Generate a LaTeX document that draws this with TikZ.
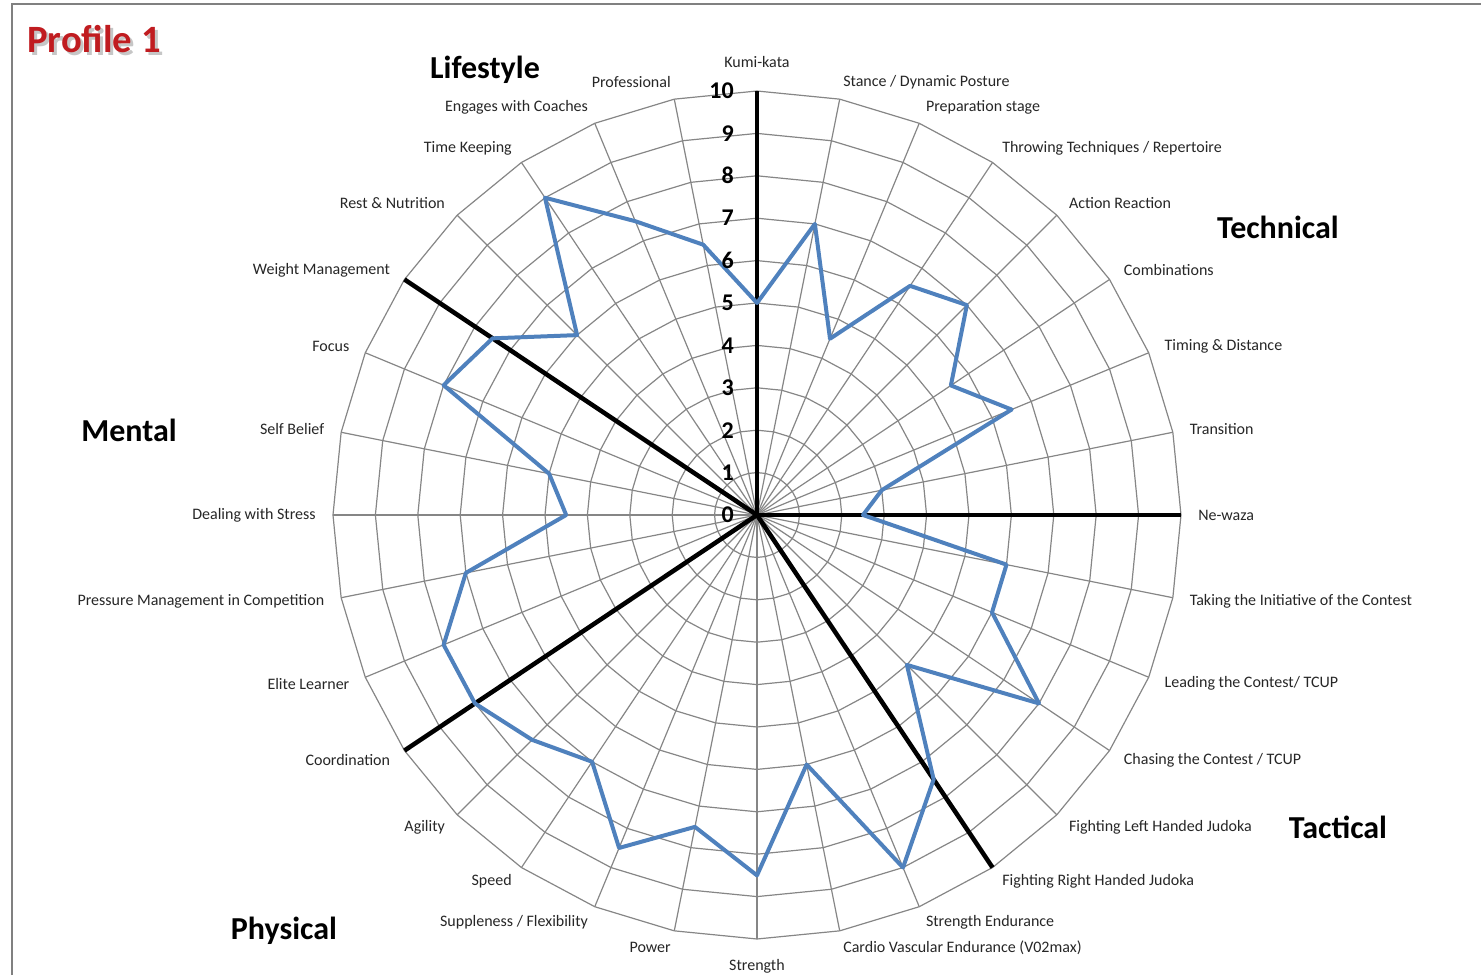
\documentclass[tikz,border=0pt]{standalone}
\usepackage{fontspec}
\setmainfont{Carlito}
\usepackage{xcolor}
\usetikzlibrary{positioning}

\definecolor{chartblue}{RGB}{79,129,189}
\definecolor{titlered}{RGB}{192,28,32}
\definecolor{gridgray}{RGB}{134,134,134}

\begin{document}
\begin{tikzpicture}[
    x=0.75pt, y=0.75pt,
    grid/.style   ={draw=gridgray, line width=0.9pt},
    divider/.style={draw=black, line width=3.4pt},
    profile/.style={draw=chartblue, line width=3pt, line join=round},
    frame/.style  ={draw=gray, line width=1.5pt},
    axislabel/.style={font=\fontsize{12}{14}\selectfont, text=black!85, inner sep=0pt},
    tick/.style   ={font=\fontsize{18}{20}\selectfont\bfseries, anchor=east, inner sep=0pt},
    group/.style  ={font=\fontsize{24}{28}\selectfont\bfseries},
    title/.style  ={font=\fontsize{29}{33}\selectfont\bfseries}
  ]
    \useasboundingbox (-757,-460) rectangle (724,515);

    % frame
    \draw[frame] (-745,-460) -- (-745,511) -- (724,511);

    % centre and axis ends
    \coordinate (O) at (0,0);
    \foreach \i in {0,...,31} \coordinate (a\i) at (90-11.25*\i:424);

    % rings and spokes
    \foreach \k in {1,...,10}
      \draw[grid] (90:\k*42.4) \foreach \i in {1,...,31} { -- (90-11.25*\i:\k*42.4) } -- cycle;
    \foreach \i in {0,...,31} \draw[grid] (O) -- (a\i);

    % group dividers
    \foreach \i in {0,8,13,21,27} \draw[divider] (O) -- (a\i);

    % scores
    \foreach \i/\v in {0/5, 1/7, 2/4.5, 3/6.5, 4/7, 5/5.5, 6/6.5, 7/3,
                       8/2.5, 9/6, 10/6, 11/8, 12/5, 13/7.5, 14/9, 15/6,
                       16/8.5, 17/7.5, 18/8.5, 19/7, 20/7.5, 21/8, 22/8, 23/7,
                       24/4.5, 25/5, 26/8, 27/7.5, 28/6, 29/9, 30/7.5, 31/6.5}
      \coordinate (p\i) at (90-11.25*\i:\v*42.4);
    \draw[profile] (p0) \foreach \i in {1,...,31} { -- (p\i) } -- cycle;

    % scale
    \foreach \k in {0,...,10} \node[tick] (t\k) at (-23,\k*42.4) {\k};

    % axis labels
    \node[axislabel, anchor=south] (l0) at (90:447) {Kumi-kata};
    \node[axislabel, anchor=north] (l16) at (-90:444) {Strength};
    \foreach \i/\txt in {1/{Stance / Dynamic Posture}, 2/{Preparation stage},
                         3/{Throwing Techniques / Repertoire}, 4/{Action Reaction},
                         5/{Combinations}, 6/{Timing \& Distance}, 7/{Transition},
                         8/{Ne-waza}, 9/{Taking the Initiative of the Contest},
                         10/{Leading the Contest/ TCUP}, 11/{Chasing the Contest / TCUP},
                         12/{Fighting Left Handed Judoka}, 13/{Fighting Right Handed Judoka},
                         14/{Strength Endurance}, 15/{Cardio Vascular Endurance (V02max)}}
      \node[axislabel, anchor=west] (l\i) at (90-11.25*\i:441) {\txt};
    \foreach \i/\txt in {17/{Power}, 18/{Suppleness / Flexibility}, 19/{Speed},
                         20/{Agility}, 21/{Coordination}, 22/{Elite Learner},
                         23/{Pressure Management in Competition}, 24/{Dealing with Stress},
                         25/{Self Belief}, 26/{Focus}, 27/{Weight Management},
                         28/{Rest \& Nutrition}, 29/{Time Keeping},
                         30/{Engages with Coaches}, 31/{Professional}}
      \node[axislabel, anchor=east] (l\i) at (90-11.25*\i:441) {\txt};

    % groups
    \node[group] (lifestyle) at (-272,445) {Lifestyle};
    \node[group] (technical) at (521,288) {Technical};
    \node[group] (tactical) at (581,-312) {Tactical};
    \node[group] (physical) at (-473,-416) {Physical};
    \node[group] (mental) at (-628,85) {Mental};

    % title
    \node[title, text=gray!45] (shadow) at (-660,473) {Profile 1};
    \node[title, text=titlered] (title) at (-663,476) {Profile 1};
\end{tikzpicture}
\end{document}
